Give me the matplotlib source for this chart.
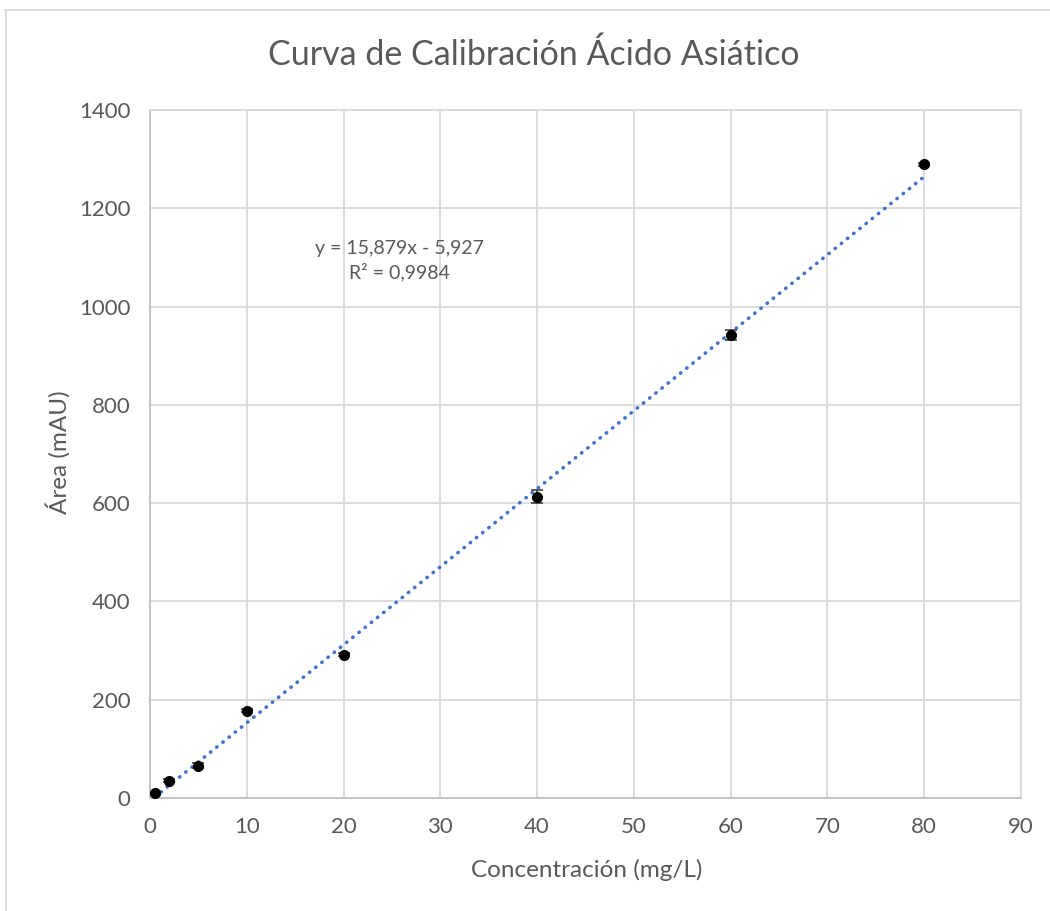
import matplotlib.pyplot as plt
from matplotlib.lines import Line2D
import numpy as np

plt.rcParams['font.family'] = ['Lato', 'DejaVu Sans']

# Patrones de calibración
conc = [0.5, 2, 5, 10, 20, 40, 60, 80]
area = [10, 35, 66, 178, 292, 613, 942, 1290]
area_err = [3, 3, 5, 4, 4, 13, 9.5, 3]

# Recta de ajuste
slope = 15.879
intercept = -5.927
r2 = 0.9984

text_color = '#595959'
grid_color = '#d9d9d9'
axis_color = '#bfbfbf'

W, H = 1050, 911
fig = plt.figure(figsize=(W / 100, H / 100), dpi=100)
ax = fig.add_axes([150 / W, 113 / H, 871 / W, 688 / H])

ax.errorbar(conc, area, yerr=area_err, fmt='o', color='black', markersize=7,
            ecolor='#404040', elinewidth=1.2, capsize=4, capthick=1.2, zorder=3)

xf = np.array([conc[0], conc[-1]])
ax.plot(xf, slope * xf + intercept, color='#4472c4', linewidth=2.6,
        linestyle=(0, (0.1, 2.1)), dash_capstyle='round', zorder=2)

ax.set_xlim(0, 90)
ax.set_ylim(0, 1400)
ax.set_xticks(range(0, 91, 10))
ax.set_yticks(range(0, 1401, 200))
ax.grid(True, color=grid_color, linewidth=1.3)
ax.set_axisbelow(True)
for side in ['top', 'right']:
    ax.spines[side].set_color(grid_color)
    ax.spines[side].set_linewidth(1.3)
for side in ['left', 'bottom']:
    ax.spines[side].set_color(axis_color)
    ax.spines[side].set_linewidth(1.3)
ax.tick_params(length=0, labelsize=16, labelcolor=text_color, pad=14)

# títulos en coordenadas de la figura (px)
fig.text(534 / W, 1 - 55 / H, 'Curva de Calibración Ácido Asiático',
         fontsize=24.5, color=text_color, ha='center', va='center')
fig.text(587 / W, 1 - 870 / H, 'Concentración (mg/L)',
         fontsize=17.5, color=text_color, ha='center', va='center')
fig.text(58 / W, 1 - 452 / H, 'Área (mAU)', rotation=90,
         fontsize=17.5, color=text_color, ha='center', va='center')

eq = f'y = {slope:.3f}x - {abs(intercept):.3f}'.replace('.', ',')
r2_txt = f'R² = {r2:.4f}'.replace('.', ',')
ax.text(25.8, 1093, eq + '\n' + r2_txt, ha='center', va='center',
        multialignment='center', fontsize=14, color=text_color,
        linespacing=1.4)

# marco del gráfico
fig.add_artist(Line2D([5 / W, 1], [1 - 10 / H, 1 - 10 / H],
                      color=grid_color, linewidth=1.3))
fig.add_artist(Line2D([6 / W, 6 / W], [0, 1 - 10 / H],
                      color=grid_color, linewidth=1.3))

fig.savefig('out.png', dpi=100, facecolor='white')
